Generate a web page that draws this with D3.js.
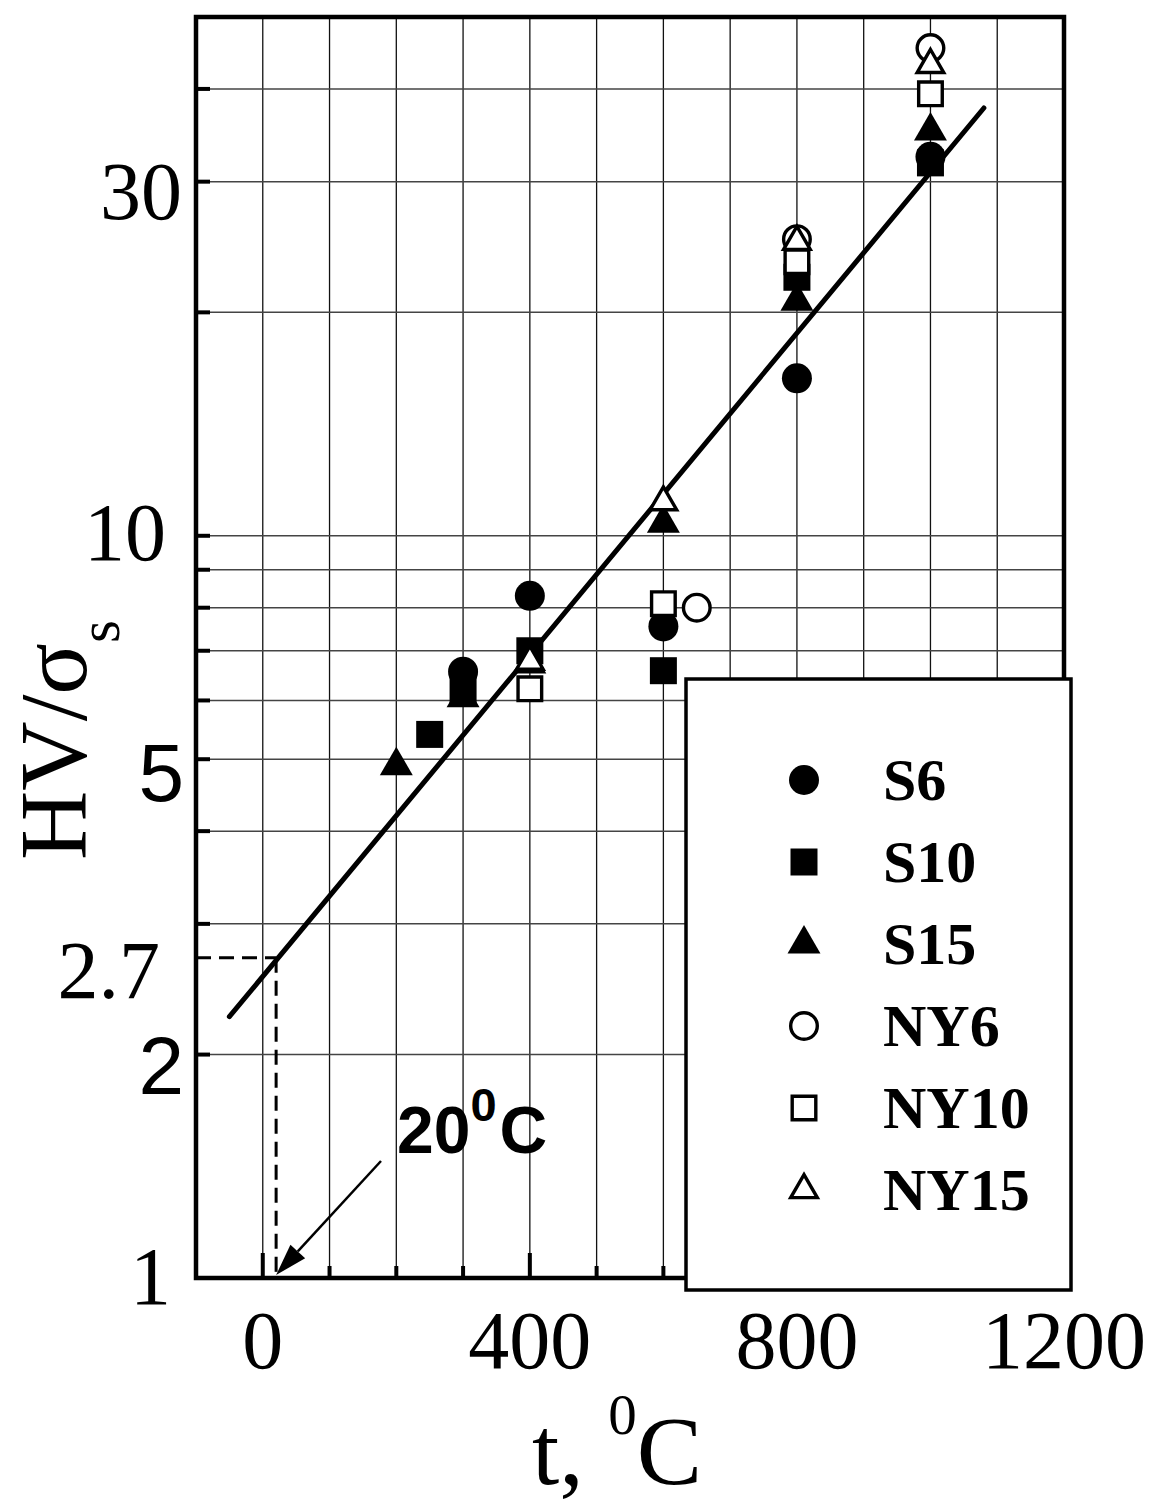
<!DOCTYPE html>
<html>
<head>
<meta charset="utf-8">
<script src="https://cdn.jsdelivr.net/npm/d3@7"></script>
<style>
  html, body { margin: 0; padding: 0; background: #fff; }
  svg { display: block; }
</style>
</head>
<body>
<svg id="chart" width="1152" height="1506"></svg>
<script>
// ---- Data: temperature (°C) vs HV/σs ----
const seriesNames = ["S6", "S10", "S15", "NY6", "NY10", "NY15"];

const s6Points   = [[300, 6.56], [400, 8.3], [600, 7.55], [800, 16.3], [1000, 32.4]];
const s10Points  = [[250, 5.4], [300, 6.2], [400, 7.0], [600, 6.58], [800, 22.3], [1000, 31.8]];
const s15Points  = [[200, 4.9], [300, 6.05], [400, 6.72], [600, 10.4], [800, 20.7], [1000, 35.1]];
const ny6Points  = [[650, 8.0], [800, 25.1], [1000, 45.4]];
const ny10Points = [[400, 6.22], [600, 8.1], [800, 23.4], [1000, 39.4]];
const ny15Points = [[400, 6.77], [600, 11.1], [800, 24.9], [1000, 43.1]];

// Straight fit in semi-log coordinates (end points)
const fitLine = [[-50, 2.25], [1080, 37.7]];

// Room-temperature reading
const refTemp = 20;
const refValue = 2.7;

// Axis ticks and grid
const tempTickLabels  = [0, 400, 800, 1200];
const tempGrid        = [0, 100, 200, 300, 400, 500, 600, 700, 800, 900, 1000, 1100];
const valueTickLabels = [1, 2, 2.7, 5, 10, 30];
const valueGrid       = [2, 3, 4, 5, 6, 7, 8, 9, 10, 20, 30, 40];

// ---- Layout ----
const serif = "'Liberation Serif', 'Times New Roman', Times, serif";
const sans  = "'Liberation Sans', Arial, Helvetica, sans-serif";

const svg = d3.select("#chart");
const x = d3.scaleLinear().domain([-100, 1200]).range([196, 1064]);
const y = d3.scaleLog().domain([1, 50]).range([1278, 17]);
const [x0, x1] = x.range();
const [y0, y1] = y.range();

// ---- Grid ----
const grid = svg.append("g");
grid.selectAll("line.v").data(tempGrid).join("line")
  .attr("x1", d => x(d)).attr("x2", d => x(d))
  .attr("y1", y1).attr("y2", y0)
  .attr("stroke", "#111").attr("stroke-width", 1.3);
grid.selectAll("line.h").data(valueGrid).join("line")
  .attr("x1", x0).attr("x2", x1)
  .attr("y1", d => y(d)).attr("y2", d => y(d))
  .attr("stroke", "#444").attr("stroke-width", 1.5);

// ---- Ticks (inward) ----
const ticks = svg.append("g").attr("stroke", "#000").attr("stroke-width", 4);
ticks.selectAll("line.yt").data(valueGrid).join("line")
  .attr("x1", x0).attr("x2", x0 + 14)
  .attr("y1", d => y(d)).attr("y2", d => y(d));
ticks.selectAll("line.xt").data(tempGrid).join("line")
  .attr("x1", d => x(d)).attr("x2", d => x(d))
  .attr("y1", y0)
  .attr("y2", d => y0 - (d % 400 === 0 ? 25 : 12));

// ---- Dashed reading lines ----
const dash = svg.append("g").attr("stroke", "#000").attr("stroke-width", 3)
  .attr("stroke-dasharray", "15,8").attr("fill", "none");
dash.append("line")
  .attr("x1", x0).attr("x2", x(refTemp))
  .attr("y1", y(refValue)).attr("y2", y(refValue));
dash.append("line")
  .attr("x1", x(refTemp)).attr("x2", x(refTemp))
  .attr("y1", y(refValue)).attr("y2", y0);

// ---- Fit line ----
svg.append("path")
  .datum(fitLine)
  .attr("d", d3.line().x(d => x(d[0])).y(d => y(d[1])))
  .attr("fill", "none").attr("stroke", "#000")
  .attr("stroke-width", 5).attr("stroke-linecap", "round");

// ---- Markers ----
const markerStyles = {
  S6:   { type: d3.symbolCircle,   size: 707, filled: true },
  S10:  { type: d3.symbolSquare,   size: 729, filled: true },
  S15:  { type: d3.symbolTriangle, size: 470, filled: true },
  NY6:  { type: d3.symbolCircle,   size: 556, filled: false },
  NY10: { type: d3.symbolSquare,   size: 557, filled: false },
  NY15: { type: d3.symbolTriangle, size: 306, filled: false }
};
const seriesPoints = {
  S6: s6Points, S10: s10Points, S15: s15Points,
  NY6: ny6Points, NY10: ny10Points, NY15: ny15Points
};

function styleMarker(sel, name) {
  const st = markerStyles[name];
  sel.attr("d", d3.symbol().type(st.type).size(st.size)())
    .attr("fill", st.filled ? "#000" : "#fff")
    .attr("stroke", st.filled ? "none" : "#000")
    .attr("stroke-width", st.filled ? 0 : 3.4)
    .attr("stroke-linejoin", "miter");
}

const marks = svg.append("g");
seriesNames.forEach(name => {
  marks.append("g").selectAll("path").data(seriesPoints[name]).join("path")
    .attr("transform", d => `translate(${x(d[0])},${y(d[1])})`)
    .call(styleMarker, name);
});

// ---- Frame ----
svg.append("rect")
  .attr("x", x0).attr("y", y1).attr("width", x1 - x0).attr("height", y0 - y1)
  .attr("fill", "none").attr("stroke", "#000").attr("stroke-width", 4.5);

// ---- Legend (sits over the lower-right corner of the frame) ----
const legend = svg.append("g");
legend.append("rect")
  .attr("x", 686).attr("y", 679).attr("width", 385).attr("height", 611)
  .attr("fill", "#fff").attr("stroke", "#000").attr("stroke-width", 3.5);
seriesNames.forEach((name, i) => {
  const cy = 780 + i * 82;
  legend.append("path")
    .attr("transform", `translate(804,${cy})`)
    .call(styleMarker, name);
  legend.append("text")
    .attr("x", 883).attr("y", cy + 20)
    .attr("font-family", serif).attr("font-weight", "bold").attr("font-size", 60)
    .text(name);
});

// ---- Tick labels ----
svg.append("g").selectAll("text").data(tempTickLabels).join("text")
  .attr("x", d => x(d)).attr("y", 1368)
  .attr("text-anchor", "middle")
  .attr("font-family", serif).attr("font-size", 82)
  .text(d => d);

// per-label typeface and nudges for the value axis
const valueLabelStyle = {
  "1":   { font: serif, dx: -9,  dy: -2 },
  "2":   { font: sans,  dx: 4,   dy: 11 },
  "2.7": { font: serif, dx: -20, dy: 12 },
  "5":   { font: sans,  dx: 4,   dy: 14 },
  "10":  { font: serif, dx: -14, dy: -4 },
  "30":  { font: serif, dx: 2,   dy: 9 }
};
svg.append("g").selectAll("text").data(valueTickLabels).join("text")
  .attr("x", d => 180 + valueLabelStyle[String(d)].dx)
  .attr("y", d => y(d) + 28 + valueLabelStyle[String(d)].dy)
  .attr("text-anchor", "end")
  .attr("font-family", d => valueLabelStyle[String(d)].font)
  .attr("font-size", 82)
  .text(d => d);

// ---- Axis titles ----
const xTitle = svg.append("text")
  .attr("x", 532).attr("y", 1484)
  .attr("font-family", serif).attr("font-size", 98);
xTitle.append("tspan").text("t, ");
xTitle.append("tspan").attr("font-size", 57).attr("dy", -50).text("0");
xTitle.append("tspan").attr("dy", 50).text("C");

const yTitle = svg.append("text")
  .attr("transform", "translate(86,860) rotate(-90)")
  .attr("font-family", serif).attr("font-size", 96);
yTitle.append("tspan").text("HV/σ");
yTitle.append("tspan").attr("font-size", 59).attr("dy", 33).text("s");

// ---- Annotation: 20 °C arrow ----
const ann = svg.append("text")
  .attr("x", 397).attr("y", 1153)
  .attr("font-family", sans).attr("font-weight", "bold").attr("font-size", 66);
ann.append("tspan").text(refTemp);
ann.append("tspan").attr("font-size", 47).attr("dy", -32).text("0");
ann.append("tspan").attr("dy", 32).attr("dx", 3).text("C");

const tip = [x(refTemp), y(1) - 3];
const tail = [381, 1161];
const ang = Math.atan2(tip[1] - tail[1], tip[0] - tail[0]);
const headLen = 32, headHalf = 10;
const base = [tip[0] - headLen * Math.cos(ang), tip[1] - headLen * Math.sin(ang)];
svg.append("line")
  .attr("x1", tail[0]).attr("y1", tail[1])
  .attr("x2", base[0]).attr("y2", base[1])
  .attr("stroke", "#000").attr("stroke-width", 2.5);
svg.append("path")
  .attr("d", d3.line()([
    tip,
    [base[0] + headHalf * Math.sin(ang), base[1] - headHalf * Math.cos(ang)],
    [base[0] - headHalf * Math.sin(ang), base[1] + headHalf * Math.cos(ang)]
  ]) + "Z")
  .attr("fill", "#000");
</script>
</body>
</html>
